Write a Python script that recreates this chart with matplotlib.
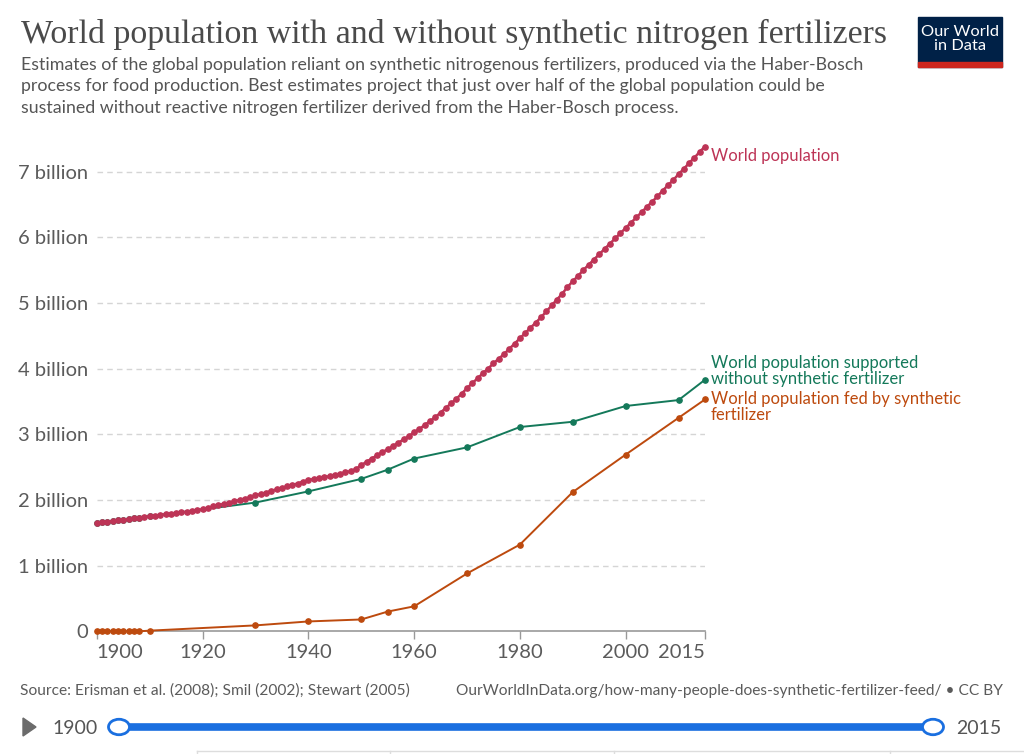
import numpy as np
import matplotlib
matplotlib.use("Agg")
import matplotlib.pyplot as plt
from matplotlib.patches import Rectangle, Circle, Polygon

plt.rcParams['font.family'] = ['Lato', 'DejaVu Sans']

# datos (miles de millones)
years_pop = list(range(1900, 2016))
world_pop = [
    1.65, 1.66, 1.67, 1.68, 1.69, 1.70, 1.71, 1.72, 1.73, 1.74,
    1.75, 1.76, 1.77, 1.78, 1.79, 1.80, 1.81, 1.82, 1.83, 1.84,
    1.86, 1.88, 1.90, 1.92, 1.94, 1.96, 1.98, 2.00, 2.02, 2.04,
    2.07, 2.09, 2.11, 2.14, 2.16, 2.18, 2.21, 2.23, 2.25, 2.28,
    2.30, 2.32, 2.33, 2.35, 2.36, 2.38, 2.40, 2.42, 2.44, 2.47,
    2.53, 2.58, 2.63, 2.68, 2.73, 2.77, 2.82, 2.87, 2.92, 2.97,
    3.03, 3.08, 3.14, 3.20, 3.26, 3.33, 3.40, 3.47, 3.54, 3.62,
    3.70, 3.78, 3.85, 3.93, 4.00, 4.08, 4.15, 4.22, 4.30, 4.38,
    4.46, 4.54, 4.62, 4.70, 4.78, 4.87, 4.96, 5.05, 5.14, 5.24,
    5.33, 5.41, 5.50, 5.58, 5.66, 5.74, 5.82, 5.90, 5.98, 6.06,
    6.14, 6.22, 6.30, 6.38, 6.46, 6.54, 6.62, 6.71, 6.79, 6.87,
    6.96, 7.04, 7.13, 7.21, 7.30, 7.38,
]

years_fert = [1900, 1901, 1902, 1903, 1904, 1905, 1906, 1907, 1908, 1910,
              1930, 1940, 1950, 1955, 1960, 1970, 1980, 1990, 2000, 2010, 2015]
fed_by_fert = [0, 0, 0, 0, 0, 0, 0, 0, 0, 0.01,
               0.09, 0.15, 0.18, 0.30, 0.38, 0.88, 1.32, 2.12, 2.69, 3.25, 3.53]
without_fert = [1.65, 1.66, 1.67, 1.68, 1.69, 1.70, 1.71, 1.72, 1.73, 1.75,
                1.96, 2.13, 2.32, 2.46, 2.63, 2.80, 3.11, 3.19, 3.43, 3.52, 3.83]

x_ticks = [1900, 1920, 1940, 1960, 1980, 2000, 2015]
y_ticks = [0, 1, 2, 3, 4, 5, 6, 7]
y_labels = ["0", "1 billion", "2 billion", "3 billion", "4 billion",
            "5 billion", "6 billion", "7 billion"]

# colores
rojo = "#bd3456"
verde = "#14795a"
naranja = "#bd4a0e"
gris = "#5b5b5b"

W, H = 1024, 754
fig = plt.figure(figsize=(W / 100, H / 100), dpi=100)


def fx(x):
    return x / W


def fy(y):
    return 1 - y / H


# ejes: 1900 en x=97, 2015 en x=705; 0 en y=631, 7 en y=171
ymax = 7.4
px_per_b = (631.3 - 171.5) / 7
ax = fig.add_axes([fx(96.8), fy(631.3), (705 - 96.8) / W, ymax * px_per_b / H])
ax.set_xlim(1900, 2015)
ax.set_ylim(0, ymax)

ax.plot(years_fert, without_fert, color=verde, lw=1.4, marker="o", ms=3.8,
        clip_on=False, zorder=3)
ax.plot(years_fert, fed_by_fert, color=naranja, lw=1.4, marker="o", ms=3.8,
        clip_on=False, zorder=3)
ax.plot(years_pop, world_pop, color=rojo, lw=1.8, marker="o", ms=3.8,
        clip_on=False, zorder=4)

for s in ["top", "right", "left"]:
    ax.spines[s].set_visible(False)
ax.spines["bottom"].set_color("#999999")
ax.spines["bottom"].set_linewidth(1.2)

ax.set_yticks(y_ticks)
ax.set_yticklabels(y_labels)
ax.tick_params(axis="y", length=0, pad=6, labelsize=14.5, labelcolor=gris)
ax.set_xticks(x_ticks)
ax.set_xticklabels([str(t) for t in x_ticks])
ax.tick_params(axis="x", length=6, width=1, color="#999999", pad=3,
               labelsize=14.5, labelcolor=gris)
lbls = ax.get_xticklabels()
lbls[0].set_horizontalalignment("left")
lbls[-1].set_horizontalalignment("right")
ax.grid(axis="y", color="#d5d5d5", lw=1, ls=(0, (4, 3)))
ax.grid(axis="x", visible=False)
ax.set_axisbelow(True)
for t in ax.yaxis.get_gridlines()[:1]:
    t.set_visible(False)

# etiquetas de las series
fig.text(fx(711), fy(156), "World population", color=rojo, fontsize=12,
         va="center", ha="left")
fig.text(fx(711), fy(371), "World population supported\nwithout synthetic fertilizer",
         color=verde, fontsize=12, va="center", ha="left", linespacing=0.98)
fig.text(fx(711), fy(407), "World population fed by synthetic\nfertilizer",
         color=naranja, fontsize=12, va="center", ha="left", linespacing=0.98)

# título y subtítulo
fig.text(fx(21), fy(34), "World population with and without synthetic nitrogen fertilizers",
         family=["Liberation Serif", "DejaVu Serif"], fontsize=24.4, color="#4a4a4a",
         va="center", ha="left")
fig.text(fx(21), fy(86.5),
         "Estimates of the global population reliant on synthetic nitrogenous fertilizers, produced via the Haber-Bosch\n"
         "process for food production. Best estimates project that just over half of the global population could be\n"
         "sustained without reactive nitrogen fertilizer derived from the Haber-Bosch process.",
         fontsize=12.8, color="#555555", va="center", ha="left", linespacing=1.42)

# logo
fig.patches.append(Rectangle((fx(918), fy(67)), (1002 - 918) / W, 50 / H,
                             transform=fig.transFigure, color="#002147", zorder=1))
fig.patches.append(Rectangle((fx(918), fy(67)), (1002 - 918) / W, 4.5 / H,
                             transform=fig.transFigure, color="#ce261e", zorder=2))
fig.text(fx(960), fy(39), "Our World\nin Data", color="white", fontsize=11.8,
         ha="center", va="center", linespacing=1.05, zorder=3)

# fuente
fig.text(fx(20), fy(691), "Source: Erisman et al. (2008); Smil (2002); Stewart (2005)",
         fontsize=11.2, color="#5b5b5b", va="center", ha="left")
fig.text(fx(1003), fy(691),
         "OurWorldInData.org/how-many-people-does-synthetic-fertilizer-feed/ \u2022 CC BY",
         fontsize=11.2, color="#5b5b5b", va="center", ha="right")

# barra de tiempo
fig.patches.append(Polygon([(fx(23), fy(718)), (fx(23), fy(736)), (fx(36), fy(727))],
                           closed=True, transform=fig.transFigure, color="#6b6b6b"))
fig.text(fx(52), fy(728), "1900", fontsize=14, color="#555555", va="center", ha="left")
fig.text(fx(1001), fy(728), "2015", fontsize=14, color="#555555", va="center", ha="right")
fig.lines.append(plt.Line2D([fx(119), fx(933)], [fy(727), fy(727)],
                            transform=fig.transFigure, color="#1a6fe0", lw=5.5,
                            solid_capstyle="butt"))
for cx in [119, 933]:
    fig.patches.append(Circle((fx(cx), fy(727)), 10.5 / W, transform=fig.transFigure,
                              facecolor="white", edgecolor="#1a6fe0", lw=2, zorder=5))
fig.lines.append(plt.Line2D([fx(197), fx(1024)], [fy(751), fy(751)],
                            transform=fig.transFigure, color="#dddddd", lw=1))
for lx in [197, 390, 614, 890]:
    fig.lines.append(plt.Line2D([fx(lx), fx(lx)], [fy(751), fy(754)],
                                transform=fig.transFigure, color="#dddddd", lw=1))

fig.savefig("out.png", dpi=100, facecolor="white")
